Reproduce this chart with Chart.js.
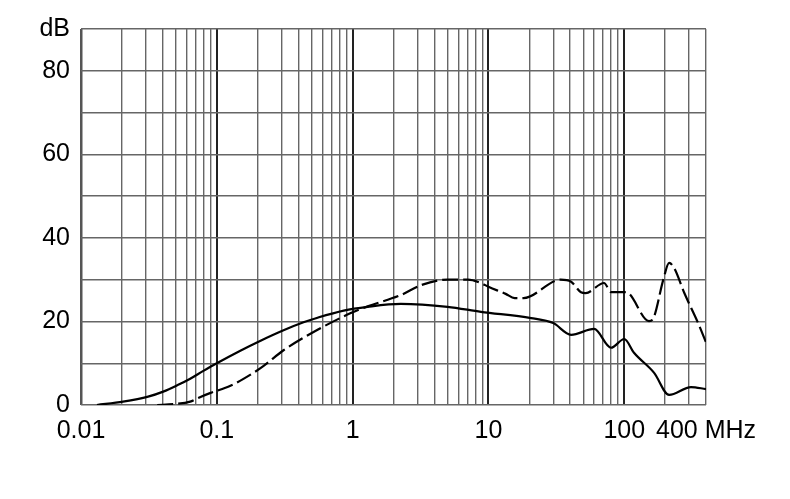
<!DOCTYPE html>
<html>
<head>
<meta charset="utf-8">
<script src="https://cdn.jsdelivr.net/npm/chart.js@4.4.1/dist/chart.umd.min.js"></script>
<style>
html,body{margin:0;padding:0;background:#fff;}
#wrap{width:790px;height:499px;position:relative;}
</style>
</head>
<body>
<div id="wrap"><canvas id="c"></canvas></div>
<script>
// Frequency (MHz) and attenuation (dB)
const solidFreq = [0.0131, 0.0204, 0.0312, 0.0403, 0.051, 0.0637, 0.079, 0.1, 0.149, 0.21, 0.31, 0.435, 0.552, 0.86, 1.29, 2.26, 5, 8.8, 20.6, 30, 40.6, 60, 80, 100, 118, 166, 214, 310, 400];
const solidDb   = [0,      0.8,    2,      3.2,    4.7,   6.3,    8.1,   10,  13,    15.4, 17.9, 19.8,  20.9,  22.6, 23.5, 24.2, 23.5, 22.3, 20.8, 19.6, 16.8, 18.2, 13.7, 15.8, 12.5, 7.7, 2.4, 4.3, 3.8];

const dashFreq = [0.0364, 0.0478, 0.0637, 0.073, 0.09, 0.126, 0.186, 0.22, 0.31, 0.552, 0.97, 1.29, 2.26, 3.2, 5, 7.06, 8.8, 10, 13.4, 15.6, 18.1, 34, 40.6, 48, 52, 71, 80, 100, 107, 152, 164, 194, 214, 233, 277, 350, 400];
const dashDb   = [0,      0.2,    0.8,    1.7,   2.9,  4.6,   7.7,   9.3,  13.1, 18,    22,   23.6, 26.3, 28.7, 30, 30,   29.2, 28.3, 26.6, 25.6, 25.6, 30, 29.5, 27, 26.8, 29.2, 27, 27, 26.8, 20.1, 20.8, 30, 34, 32.8, 26.8, 19.6, 15];

// Axis ticks
const xGridTicks = [];
[0.01, 0.1, 1, 10].forEach(d => { for (let m = 1; m <= 9; m++) xGridTicks.push(+(m * d).toPrecision(3)); });
xGridTicks.push(100, 200, 300, 400);
const xLabelTicks = [0.01, 0.1, 1, 10, 100, 400];
const xLabelText  = ['0.01', '0.1', '1', '10', '100', '400 MHz'];
const yLabelTicks = [0, 20, 40, 60, 80, 90];
const yLabelText  = ['0', '20', '40', '60', '80', 'dB'];
const decadeTicks = [0.1, 1, 10, 100];

const toXY = (xs, ys) => xs.map((x, i) => ({x: x, y: ys[i]}));

Chart.defaults.font.family = '"Liberation Sans", Arial, sans-serif';
Chart.defaults.color = '#000';

new Chart(document.getElementById('c'), {
  type: 'line',
  data: {
    datasets: [
      {
        data: toXY(solidFreq, solidDb),
        borderColor: '#000',
        borderWidth: 2.2,
        pointRadius: 0,
        cubicInterpolationMode: 'monotone',
        fill: false
      },
      {
        data: toXY(dashFreq, dashDb),
        borderColor: '#000',
        borderWidth: 2.2,
        borderDash: [16, 5],
        pointRadius: 0,
        cubicInterpolationMode: 'monotone',
        fill: false
      }
    ]
  },
  options: {
    responsive: true,
    maintainAspectRatio: false,
    animation: false,
    layout: { padding: { left: 0, right: 84, top: 29, bottom: 0 } },
    plugins: { legend: { display: false }, tooltip: { enabled: false } },
    scales: {
      x: {
        type: 'logarithmic',
        min: 0.01,
        max: 400,
        afterBuildTicks: (s) => { s.ticks = xGridTicks.map(v => ({value: v})); },
        afterFit: (s) => { s.height = 94; },
        border: { display: false },
        grid: {
          drawTicks: false,
          color: (ctx) => {
            const v = ctx.tick && ctx.tick.value;
            if (v === 0.01) return '#555';
            return decadeTicks.includes(v) ? '#222' : '#666';
          },
          lineWidth: (ctx) => {
            const v = ctx.tick && ctx.tick.value;
            if (v === 0.01) return 2.5;
            return decadeTicks.includes(v) ? 2 : 1.4;
          }
        },
        ticks: {
          autoSkip: false,
          maxRotation: 0,
          padding: 11,
          font: { size: 25 },
          callback: (v) => { const i = xLabelTicks.indexOf(+(+v).toPrecision(3)); return i >= 0 ? xLabelText[i] : ''; }
        }
      },
      y: {
        min: 0,
        max: 90,
        afterFit: (s) => { s.width = 81; },
        border: { display: false },
        grid: { drawTicks: false, color: '#666', lineWidth: 1.4 },
        ticks: {
          stepSize: 10,
          padding: 11,
          font: { size: 25 },
          callback: (v) => { const i = yLabelTicks.indexOf(v); return i >= 0 ? yLabelText[i] : ''; }
        }
      }
    }
  }
});
</script>
</body>
</html>
